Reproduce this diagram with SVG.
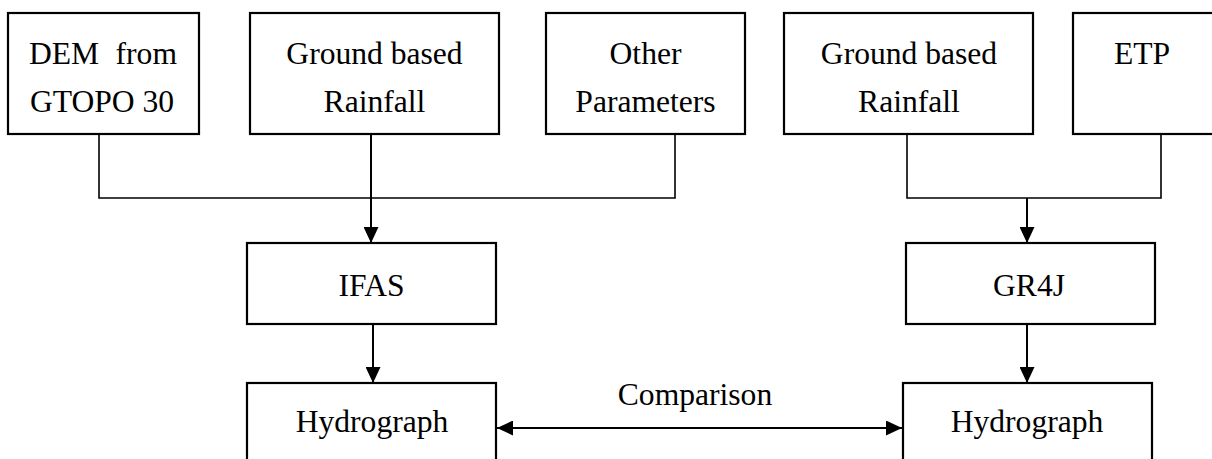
<svg xmlns="http://www.w3.org/2000/svg" width="1212" height="459" viewBox="0 0 1212 459">
  <defs>
    <style>
      .box { fill: #ffffff; stroke: #000000; stroke-width: 2.2; }
      .t { font-family: "Liberation Serif", "Times New Roman", serif; font-size: 31.6px; fill: #000000; text-anchor: middle; }
      .ln { fill: none; stroke: #000000; stroke-width: 1.6; }
      .ar { fill: none; stroke: #000000; stroke-width: 2; }
    </style>
    <marker id="ah" viewBox="0 0 16 15" refX="16" refY="7.5" markerWidth="16" markerHeight="15" markerUnits="userSpaceOnUse" orient="auto-start-reverse">
      <path d="M0,0 L16,7.5 L0,15 Z" fill="#000000"/>
    </marker>
  </defs>
  <rect width="1212" height="459" fill="#ffffff"/>

  <g id="connectors">
    <path class="ln" d="M99,134 V198 H675 V134"/>
    <path class="ar" d="M371,134 V243" marker-end="url(#ah)"/>
    <path class="ln" d="M907,134 V198 H1161 V134"/>
    <path class="ar" d="M1027,198 V243" marker-end="url(#ah)"/>
    <path class="ar" d="M373,324 V383" marker-end="url(#ah)"/>
    <path class="ar" d="M1027,324 V383" marker-end="url(#ah)"/>
    <path class="ar" d="M497,428 H902" marker-start="url(#ah)" marker-end="url(#ah)"/>
    <text class="t" x="695" y="405">Comparison</text>
  </g>

  <g id="dem">
    <rect class="box" x="8" y="13" width="191" height="121"/>
    <text class="t" x="29" y="64" style="text-anchor:start">DEM</text>
    <text class="t" x="177" y="64" style="text-anchor:end">from</text>
    <text class="t" x="102" y="112">GTOPO 30</text>
  </g>

  <g id="rain1">
    <rect class="box" x="250" y="13" width="249" height="121"/>
    <text class="t" x="374.5" y="64">Ground based</text>
    <text class="t" x="374.5" y="112">Rainfall</text>
  </g>

  <g id="other">
    <rect class="box" x="546" y="13" width="199" height="121"/>
    <text class="t" x="645.5" y="64">Other</text>
    <text class="t" x="645.5" y="112">Parameters</text>
  </g>

  <g id="rain2">
    <rect class="box" x="784" y="13" width="249" height="121"/>
    <text class="t" x="909" y="64">Ground based</text>
    <text class="t" x="909" y="112">Rainfall</text>
  </g>

  <g id="etp">
    <rect class="box" x="1073" y="13" width="145" height="121"/>
    <text class="t" x="1142" y="64">ETP</text>
  </g>

  <g id="ifas">
    <rect class="box" x="247" y="243" width="249" height="81"/>
    <text class="t" x="371.5" y="296">IFAS</text>
  </g>

  <g id="gr4j">
    <rect class="box" x="906" y="243" width="249" height="81"/>
    <text class="t" x="1029" y="296">GR4J</text>
  </g>

  <g id="hydro1">
    <rect class="box" x="247" y="383" width="249" height="90"/>
    <text class="t" x="372" y="432">Hydrograph</text>
  </g>

  <g id="hydro2">
    <rect class="box" x="903" y="383" width="249" height="90"/>
    <text class="t" x="1027" y="432">Hydrograph</text>
  </g>
</svg>
